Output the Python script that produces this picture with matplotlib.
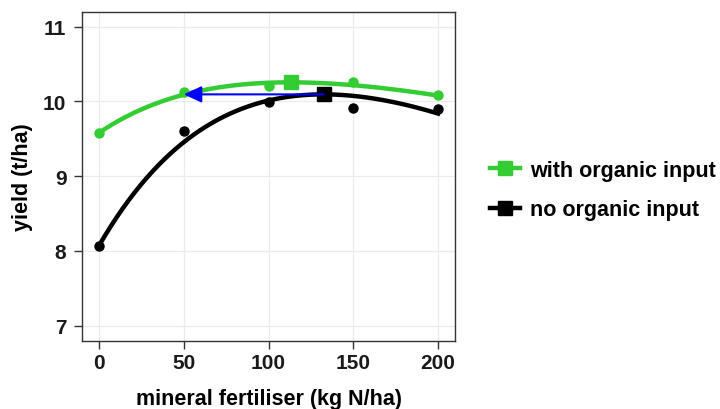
import matplotlib.pyplot as plt
import numpy as np
from matplotlib.lines import Line2D

plt.rcParams['font.family'] = ['Liberation Sans', 'DejaVu Sans']
plt.rcParams['font.weight'] = 'bold'
plt.rcParams['axes.labelweight'] = 'bold'

# mean yields per N rate (t/ha)
n_rate = [0, 50, 100, 150, 200]
yield_org = [9.58, 10.125, 10.20, 10.265, 10.08]
yield_min = [8.07, 9.60, 9.99, 9.91, 9.90]

# fitted response y = a + b * r**N + c * N  ->  [a, b, r, c]
curve_org = [11.308, -1.728, 0.98811, -0.00536]
curve_min = [13.24, -5.17, 0.98984, -0.01366]

labels = ['with organic input', 'no organic input']
GREEN = '#33cc33'


def response(p, n):
    a, b, r, c = p
    return a + b * r ** n + c * n


fig = plt.figure(figsize=(7.2, 4.1), dpi=100)
ax = fig.add_axes([0.114, 0.167, 0.518, 0.802])

xs = np.linspace(0, 200, 401)
opt = {}
for ys, p, col, lab in [(yield_org, curve_org, GREEN, labels[0]),
                        (yield_min, curve_min, 'black', labels[1])]:
    yc = response(p, xs)
    ax.plot(xs, yc, color=col, lw=3.2, zorder=3)
    ax.plot(n_rate, ys, 'o', color=col, ms=6.5, zorder=4)
    i = np.argmax(yc)
    opt[lab] = (xs[i], yc[i])
    ax.plot(xs[i], yc[i], 's', color=col, ms=10, zorder=5)

# same yield as the unmanured optimum, reached at 50 kg N with organic input
xo, yo = opt[labels[1]]
ax.annotate('', xy=(50, yo), xytext=(xo, yo),
            arrowprops=dict(arrowstyle='-|>,head_width=0.5,head_length=1.08',
                            color='blue', lw=1.5, shrinkA=0, shrinkB=0),
            zorder=6)

ax.set_xlim(-10, 210)
ax.set_ylim(6.8, 11.2)
ax.set_xticks(n_rate)
ax.set_yticks([7, 8, 9, 10, 11])
ax.grid(True, color='#ebebeb', lw=0.9)
ax.set_axisbelow(True)
for s in ax.spines.values():
    s.set_color('#333333')
    s.set_linewidth(1.0)
ax.tick_params(length=5.8, width=1, color='#333333', labelsize=15,
               labelcolor='#1a1a1a')
ax.tick_params(axis='x', pad=3.5)
ax.tick_params(axis='y', pad=5.5)
ax.set_xlabel('mineral fertiliser (kg N/ha)', fontsize=15.5, labelpad=11)
ax.set_ylabel('yield (t/ha)', fontsize=15.5, labelpad=7)

handles = [Line2D([], [], color=GREEN, lw=3.2, marker='s', ms=9.5),
           Line2D([], [], color='black', lw=3.2, marker='s', ms=9.5)]
fig.legend(handles, labels,
           loc='center left', bbox_to_anchor=(0.6536, 0.5344), frameon=False,
           fontsize=15.5, handlelength=1.4, handletextpad=0.46,
           labelspacing=0.85)

fig.savefig('out.png', dpi=100)
